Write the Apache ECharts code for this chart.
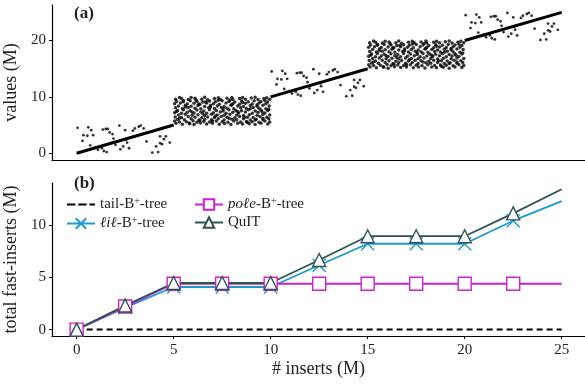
<!DOCTYPE html>
<html><head><meta charset="utf-8">
<script src="https://cdn.jsdelivr.net/npm/echarts@6/dist/echarts.min.js"></script>
<style>html,body{margin:0;padding:0;background:#fff}#c{width:585px;height:385px}</style>
</head><body><div id="c"></div>
<script>
// ---- Panel (a) data ----
// diagonal (sorted keys) segments [x0,y0,x1,y1]
const diagSegments = [[0,0,5,5],[10,10,15,15],[20,20,25,25]];
// sparse scatter pattern (repeats at each offset)
const sparseOffsets = [0, 10, 20];
const sparsePattern = [[0.05,4.5],[0.3,2.2],[0.35,3.2],[0.55,3.1],[0.6,4.6],[0.75,4.1],[0.85,3.2],[0.7,1.4],[0.95,1.0],[1.1,0.6],[1.3,0.9],[1.35,4.2],[1.5,4.3],[1.6,4.3],[1.7,3.7],[1.85,3.4],[1.9,2.6],[1.4,0.4],[1.55,0.2],[2.0,1.5],[2.2,4.9],[2.25,0.7],[2.4,1.2],[2.5,4.1],[2.55,2.4],[2.6,1.9],[2.7,0.9],[2.9,4.0],[3.2,4.7],[3.3,4.9],[3.45,4.4],[3.6,2.1],[3.9,0.1],[4.2,0.2],[4.1,1.2],[4.3,1.8],[4.4,1.6],[4.6,3.0],[4.5,2.5],[4.8,1.9],[4.3,3.0],[3.0,4.4]];
// dense block pattern (repeats at each offset)
const denseOffsets = [0, 10];
const densePattern = [
[5.12,5.3],[5.45,5.15],[5.83,5.25],[6.05,5.1],[6.38,5.35],[6.7,5.2],[7.0,5.3],[7.35,5.15],[7.62,5.28],[7.95,5.12],[8.3,5.3],[8.55,5.18],[8.9,5.25],[9.2,5.1],[9.5,5.3],[9.85,5.2],
[5.05,5.7],[5.3,5.55],[5.65,5.6],[6.0,5.75],[6.2,5.5],[6.55,5.65],[6.85,5.55],[7.2,5.7],[7.5,5.6],[7.8,5.5],[8.1,5.7],[8.45,5.55],[8.75,5.65],[9.05,5.6],[9.4,5.5],[9.7,5.7],[9.95,5.55],
[5.2,6.0],[5.55,5.95],[5.9,6.1],[6.3,5.9],[6.6,6.05],[6.95,5.95],[7.3,6.1],[7.6,5.9],[8.0,6.05],[8.25,5.95],[8.6,6.1],[8.95,5.9],[9.25,6.05],[9.6,5.95],[9.9,6.1],
[5.08,6.45],[5.4,6.35],[5.75,6.5],[6.1,6.4],[6.45,6.3],[6.75,6.45],[7.1,6.35],[7.45,6.5],[7.75,6.4],[8.15,6.3],[8.4,6.5],[8.8,6.4],[9.1,6.35],[9.45,6.5],[9.8,6.4],
[5.25,6.8],[5.6,6.9],[5.95,6.75],[6.25,6.85],[6.6,6.7],[6.95,6.9],[7.25,6.8],[7.6,6.75],[7.9,6.9],[8.25,6.8],[8.6,6.7],[8.9,6.85],[9.3,6.75],[9.6,6.9],[9.95,6.8],
[5.05,7.2],[5.4,7.1],[5.7,7.25],[6.05,7.15],[6.4,7.3],[6.7,7.1],[7.05,7.2],[7.4,7.3],[7.7,7.1],[8.05,7.25],[8.35,7.15],[8.7,7.3],[9.05,7.1],[9.35,7.25],[9.7,7.15],
[5.2,7.6],[5.5,7.7],[5.85,7.55],[6.2,7.65],[6.55,7.5],[6.85,7.7],[7.2,7.6],[7.55,7.5],[7.85,7.7],[8.2,7.6],[8.5,7.55],[8.85,7.7],[9.2,7.5],[9.5,7.65],[9.85,7.6],
[5.1,8.05],[5.45,7.95],[5.75,8.1],[6.1,8.0],[6.4,7.9],[6.8,8.05],[7.1,7.95],[7.45,8.1],[7.75,8.0],[8.1,7.9],[8.45,8.05],[8.75,7.95],[9.1,8.1],[9.4,8.0],[9.75,7.9],
[5.25,8.4],[5.6,8.5],[5.9,8.35],[6.25,8.45],[6.6,8.3],[6.9,8.5],[7.25,8.4],[7.6,8.3],[7.95,8.5],[8.3,8.4],[8.6,8.3],[8.95,8.45],[9.3,8.35],[9.6,8.5],[9.92,8.4],
[5.05,8.8],[5.35,8.9],[5.7,8.75],[6.05,8.85],[6.35,8.7],[6.7,8.9],[7.05,8.8],[7.35,8.7],[7.7,8.9],[8.05,8.8],[8.4,8.7],[8.7,8.85],[9.05,8.75],[9.4,8.9],[9.75,8.8],
[5.15,9.2],[5.5,9.15],[5.85,9.3],[6.2,9.2],[6.5,9.1],[6.85,9.25],[7.15,9.15],[7.5,9.3],[7.85,9.2],[8.15,9.1],[8.5,9.25],[8.85,9.15],[9.15,9.3],[9.5,9.2],[9.85,9.1],
[5.1,9.6],[5.4,9.7],[5.75,9.55],[6.1,9.75],[6.45,9.6],[6.75,9.5],[7.1,9.7],[7.4,9.6],[7.75,9.75],[8.05,9.55],[8.4,9.7],[8.7,9.6],[9.0,9.8],[9.35,9.55],[9.65,9.7],[9.95,9.6],
[5.3,9.9],[5.9,9.88],[6.6,9.92],[7.3,9.85],[8.0,9.9],[8.55,9.88],[9.2,9.92],[9.8,9.85],
[5.3,6.2],[5.6,8.2],[5.95,7.3],[6.15,9.45],[6.35,5.8],[6.5,7.0],[6.9,8.2],[7.15,6.6],[7.3,9.4],[7.55,7.85],[7.85,6.2],[8.0,8.6],[8.3,7.4],[8.55,9.0],[8.65,6.4],[8.95,7.9],[9.2,5.9],[9.3,8.6],[9.55,7.4],[9.7,9.35],[5.5,9.35],[5.8,5.35],[6.65,9.1],[7.0,5.7],[7.9,9.45],[8.8,5.45],[9.6,6.2],[5.15,7.4],[9.9,7.8],[6.3,8.7]];
const aYTicks = [0, 10, 20];

// ---- Panel (b) data ----
const inserts = [0, 2.5, 5, 7.5, 10, 12.5, 15, 17.5, 20, 22.5, 25];
const tailVals = [0, 0, 0, 0, 0, 0, 0, 0, 0, 0, 0];
const lilVals  = [0, 2.1, 4.07, 4.07, 4.07, 6.15, 8.2, 8.2, 8.2, 10.4, 12.27];
const poleVals = [0, 2.2, 4.38, 4.38, 4.38, 4.38, 4.38, 4.38, 4.38, 4.38, 4.38];
const quitVals = [0, 2.3, 4.45, 4.45, 4.45, 6.65, 8.92, 8.92, 8.92, 11.1, 13.4];
const xTicks = [0, 5, 10, 15, 20, 25];
const bYTicks = [0, 5, 10];

const FONT = 'Liberation Serif';
const TXT = '#222';
const chart = echarts.init(document.getElementById('c'), null, {renderer:'canvas'});

function shift(pat, off){ return pat.map(p => [p[0]+off, p[1]+off]); }
const sparseData = [].concat(...sparseOffsets.map(o => shift(sparsePattern, o)));
const denseData = [].concat(...denseOffsets.map(o => shift(densePattern, o)));

const axisCommon = {
  axisLine:{show:true, onZero:false, lineStyle:{color:'#000', width:1.2}},
  splitLine:{show:false},
  axisLabel:{fontFamily:FONT, fontSize:15, color:TXT, margin:6}
};
const nameStyle = {fontFamily:FONT, fontSize:18, color:TXT};

const legendRich = {
  n:{fontFamily:FONT, fontSize:15, color:TXT},
  i:{fontFamily:FONT, fontSize:15, color:TXT, fontStyle:'italic'},
  s:{fontFamily:FONT, fontSize:10, color:TXT, verticalAlign:'top', padding:[0,0,7,0]}
};
const legendFmt = {
  'tail': '{n|tail-B}{s|+}{n|-tree}',
  'lil': '{i|ℓiℓ}{n|-B}{s|+}{n|-tree}',
  'pole': '{i|poℓe}{n|-B}{s|+}{n|-tree}',
  'QuIT': '{n|QuIT}'
};

const lineSeries = (name, vals, color, symbol, extra) => Object.assign({
  name, type:'line', xAxisIndex:1, yAxisIndex:1,
  data: inserts.map((x,i)=>[x, vals[i]]),
  symbol, symbolSize:(v,p)=> p.dataIndex === inserts.length-1 ? 0 : 13,
  lineStyle:{color, width:1.8},
  itemStyle:{color:'#fff', borderColor:color, borderWidth:1.4},
  showAllSymbol:true, animation:false
}, extra||{});

const option = {
  animation:false,
  grid:[
    {left:52, right:0, top:5, height:155, outerBoundsMode:'none', containLabel:false},
    {left:52, right:0, top:183, height:153, outerBoundsMode:'none', containLabel:false}
  ],
  xAxis:[
    Object.assign({}, axisCommon, {type:'value', gridIndex:0, min:-1.27, max:26.2,
      axisTick:{show:false}, axisLabel:{show:false}}),
    Object.assign({}, axisCommon, {type:'value', gridIndex:1, min:-1.27, max:26.2,
      name:'# inserts (M)', nameLocation:'middle', nameGap:24, nameTextStyle:nameStyle,
      axisTick:{show:true, length:3, customValues:xTicks, lineStyle:{color:'#000'}},
      axisLabel:Object.assign({}, axisCommon.axisLabel, {customValues:xTicks, margin:7})})
  ],
  yAxis:[
    Object.assign({}, axisCommon, {type:'value', gridIndex:0, min:-1.2, max:26.3,
      name:'values (M)', nameLocation:'middle', nameGap:31, nameTextStyle:nameStyle,
      axisTick:{show:true, length:3, customValues:aYTicks, lineStyle:{color:'#000'}},
      axisLabel:Object.assign({}, axisCommon.axisLabel, {customValues:aYTicks})}),
    Object.assign({}, axisCommon, {type:'value', gridIndex:1, min:-0.61, max:14.0,
      name:'total fast-inserts (M)', nameLocation:'middle', nameGap:31, nameTextStyle:nameStyle,
      axisTick:{show:true, length:3, customValues:bYTicks, lineStyle:{color:'#000'}},
      axisLabel:Object.assign({}, axisCommon.axisLabel, {customValues:bYTicks})})
  ],
  legend:[
    {data:[{name:'tail', icon:'path://M0,0h9v2h-9z M12,0h9v2h-9z M24,0h6v2h-6z', itemStyle:{color:'#000'}}, {name:'lil'}],
     orient:'vertical', left:61, top:191, itemGap:3, itemWidth:28, itemHeight:13,
     formatter:n=>legendFmt[n], textStyle:{rich:legendRich}},
    {data:['pole','QuIT'], orient:'vertical', left:189, top:191, itemGap:3, itemWidth:28, itemHeight:13,
     formatter:n=>legendFmt[n], textStyle:{rich:legendRich}}
  ],
  graphic:[
    {type:'text', left:74, top:5, style:{text:'(a)', font:'bold 17px "Liberation Serif"', fill:TXT}},
    {type:'text', left:74, top:175, style:{text:'(b)', font:'bold 17px "Liberation Serif"', fill:TXT}}
  ],
  series:[
    ...diagSegments.map(s => ({type:'line', xAxisIndex:0, yAxisIndex:0, data:[[s[0],s[1]],[s[2],s[3]]],
      symbol:'none', lineStyle:{color:'#000', width:3}, silent:true})),
    {type:'scatter', xAxisIndex:0, yAxisIndex:0, data:sparseData, symbolSize:2.8, itemStyle:{color:'#000'}},
    {type:'scatter', xAxisIndex:0, yAxisIndex:0, data:denseData, symbolSize:3.5, itemStyle:{color:'#000'}},
    lineSeries('tail', tailVals, '#000', 'none', {lineStyle:{color:'#000', width:2, type:[6,4]}, itemStyle:{color:'#000'}}),
    lineSeries('lil', lilVals, '#1a9ad0', 'path://M0,0L10,10M10,0L0,10', {itemStyle:{color:'#1a9ad0', borderColor:'#1a9ad0', borderWidth:1.4}}),
    lineSeries('pole', poleVals, '#cc22cc', 'rect'),
    lineSeries('QuIT', quitVals, '#2f5252', 'triangle')
  ]
};
chart.setOption(option);
</script>
</body></html>
